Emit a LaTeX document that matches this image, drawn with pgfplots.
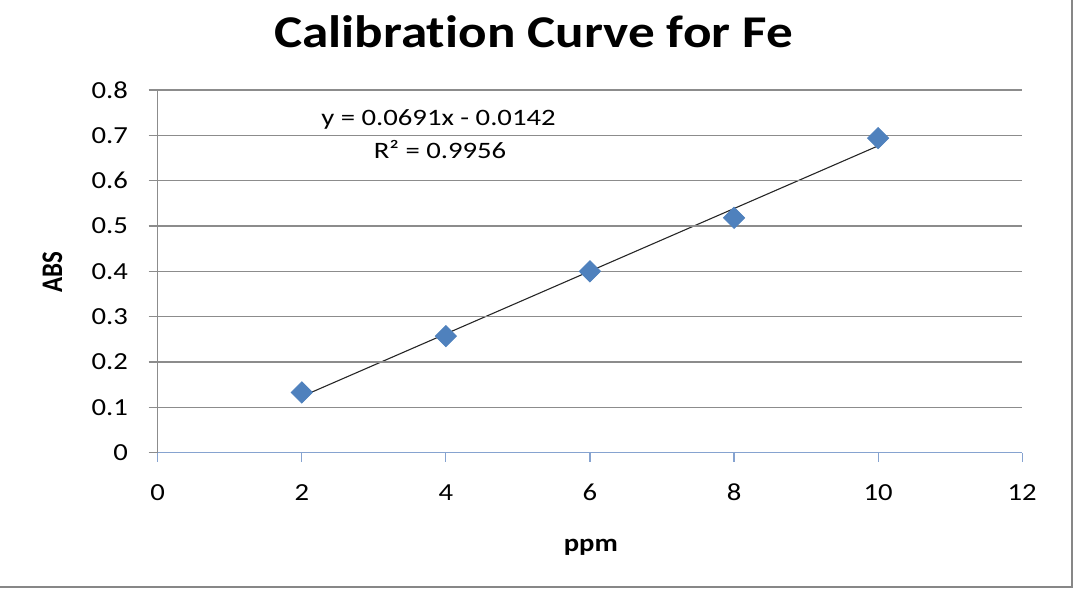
\documentclass[border=0pt]{standalone}
\usepackage{pgfplots}
\pgfplotsset{compat=1.18}
\usepackage{fontspec}
\setmainfont{Carlito}[Ligatures=NoCommon]
\definecolor{excelblue}{HTML}{4F81BD}
\definecolor{gridgray}{HTML}{8C8C8C}
\definecolor{axisblue}{HTML}{86A3D0}
\definecolor{framegray}{HTML}{878787}

\begin{document}
\begin{tikzpicture}
\useasboundingbox (0bp,0bp) rectangle (538bp,-295bp);
\begin{axis}[
    at={(78.85bp,-226.35bp)}, anchor=south west,
    width=432.25bp, height=181.35bp, scale only axis,
    xmin=0, xmax=12, ymin=0, ymax=0.8,
    xtick={0,2,4,6,8,10,12},
    ytick={0,0.1,0.2,0.3,0.4,0.5,0.6,0.7,0.8},
    axis lines*=left,
    x axis line style={axisblue, line width=0.6bp, -},
    y axis line style={gridgray, line width=0.7bp, -},
    tick align=outside, major tick length=4.5bp,
    xtick style={axisblue, line width=0.6bp},
    ytick style={gridgray, line width=0.7bp},
    ymajorgrids, grid style={gridgray, line width=0.6bp},
    /pgf/number format/assume math mode=true,
    /pgf/number format/fixed,
    ticklabel style={font=\fontsize{12.3}{14}\selectfont, color=black},
    xticklabel style={anchor=base, inner sep=0pt, yshift=-19.3bp, xscale=1.17},
    yticklabel style={anchor=east, inner sep=0pt, xshift=-10.2bp, xscale=1.17},
    clip=false, axis on top,
]
\addplot[only marks, mark=square*, mark size=3.75bp,
    mark options={rotate=45, fill=excelblue, draw=excelblue}]
    coordinates {(2,0.133) (4,0.257) (6,0.400) (8,0.518) (10,0.694)};
% linear trendline, y = 0.0691x - 0.0142, evaluated at the ends
\addplot[black!85, line width=0.55bp, no marks]
    coordinates {(2,0.1240) (10,0.6768)};
\end{axis}

\node[font=\bfseries\fontsize{22.8}{27}\selectfont, anchor=base, xscale=1.17]
    at (266.8bp,-23.85bp) {Calibration Curve for Fe};
\node[font=\fontsize{11.8}{14}\selectfont, anchor=base, xscale=1.22]
    at (219.25bp,-62.85bp) {y = 0.0691x - 0.0142};
\node[font=\fontsize{11.8}{14}\selectfont, anchor=base, xscale=1.22]
    at (220bp,-79bp) {R² = 0.9956};
\node[font=\bfseries\fontsize{12.5}{15}\selectfont, anchor=base, xscale=1.15]
    at (295.4bp,-275.85bp) {ppm};
\node[font=\bfseries\fontsize{12.5}{15}\selectfont, xscale=1.2, rotate=90]
    at (26.2bp,-135.85bp) {ABS};

\draw[framegray, line width=1.2bp] (0bp,-293.35bp) -- (535.85bp,-293.35bp) -- (535.85bp,0bp);
\end{tikzpicture}
\end{document}
